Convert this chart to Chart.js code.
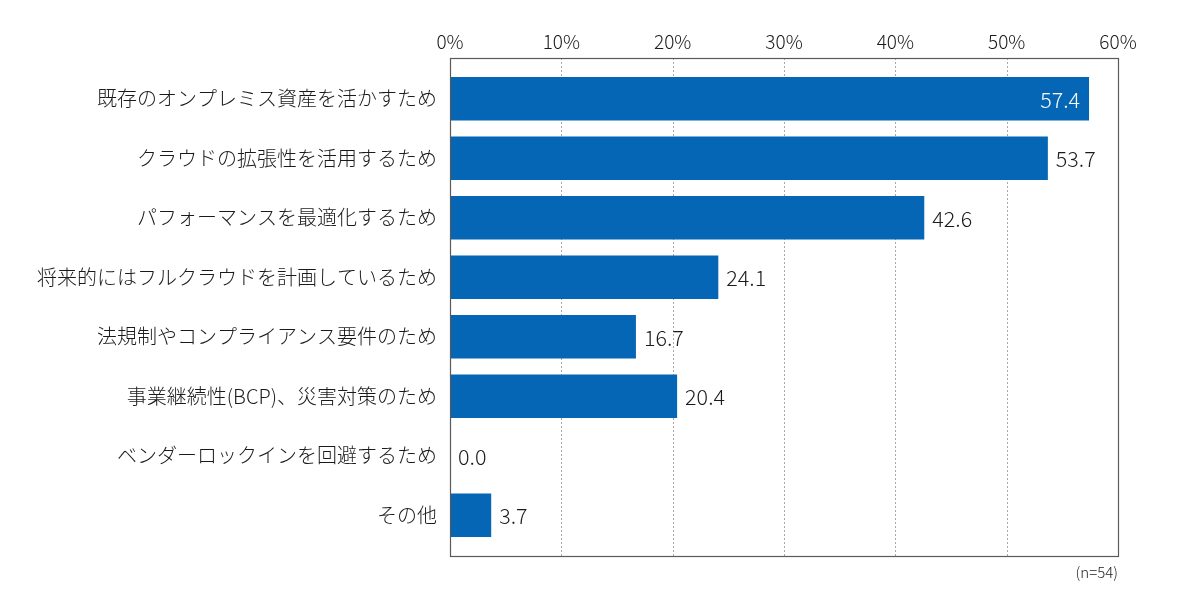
<!DOCTYPE html>
<html>
<head>
<meta charset="utf-8">
<script src="https://cdn.jsdelivr.net/npm/chart.js@4"></script>
<style>
  html, body { margin: 0; padding: 0; background: #fff; }
  #wrap { width: 1200px; height: 611px; position: relative; }
</style>
</head>
<body>
<div id="wrap"><canvas id="chart"></canvas></div>
<script>
const categories = [
  "既存のオンプレミス資産を活かすため",
  "クラウドの拡張性を活用するため",
  "パフォーマンスを最適化するため",
  "将来的にはフルクラウドを計画しているため",
  "法規制やコンプライアンス要件のため",
  "事業継続性(BCP)、災害対策のため",
  "ベンダーロックインを回避するため",
  "その他"
];
const values = [57.4, 53.7, 42.6, 24.1, 16.7, 20.4, 0.0, 3.7];
const xTicks = [0, 10, 20, 30, 40, 50, 60];
const sampleNote = "(n=54)";

const FONT = "'Noto Sans CJK JP', 'Noto Sans', sans-serif";
const BAR = "#0466b4";
const EXT = 11; // frame reaches a bit past the first/last slot

// frame, dotted grid and value labels
const framePlugin = {
  id: "frame",
  beforeDatasetsDraw(chart) {
    const { ctx, chartArea: a, scales: { x } } = chart;
    ctx.save();
    ctx.strokeStyle = "#a8a8a8";
    ctx.lineWidth = 1;
    ctx.setLineDash([2, 2]);
    xTicks.slice(1, -1).forEach((t) => {
      const px = Math.round(x.getPixelForValue(t)) + 0.5;
      ctx.beginPath();
      ctx.moveTo(px, a.top - EXT);
      ctx.lineTo(px, a.bottom + EXT);
      ctx.stroke();
    });
    ctx.restore();
  },
  afterDatasetsDraw(chart) {
    const { ctx, chartArea: a } = chart;
    ctx.save();
    ctx.strokeStyle = "#5a5a5a";
    ctx.lineWidth = 1.2;
    ctx.strokeRect(a.left + 0.5, a.top - EXT + 0.5, a.right - a.left, a.bottom - a.top + 2 * EXT);

    // value labels
    const meta = chart.getDatasetMeta(0);
    ctx.font = "300 21.5px " + FONT;
    ctx.textBaseline = "middle";
    meta.data.forEach((bar, i) => {
      const txt = values[i].toFixed(1);
      if (i === 0) {
        ctx.fillStyle = "#ffffff";
        ctx.textAlign = "right";
        ctx.fillText(txt, bar.x - 9, bar.y + 1);
      } else {
        ctx.fillStyle = "#1a1a1a";
        ctx.textAlign = "left";
        ctx.fillText(txt, bar.x + 8, bar.y + 1);
      }
    });

    ctx.fillStyle = "#1a1a1a";
    ctx.font = "300 15px " + FONT;
    ctx.textAlign = "right";
    ctx.textBaseline = "middle";
    ctx.fillText(sampleNote, a.right, a.bottom + EXT + 16);
    ctx.restore();
  }
};

new Chart(document.getElementById("chart"), {
  type: "bar",
  data: {
    labels: categories,
    datasets: [
      {
        data: values,
        backgroundColor: BAR,
        borderWidth: 0,
        barPercentage: 0.73,
        categoryPercentage: 1.0,
      },
    ],
  },
  options: {
    indexAxis: "y",
    responsive: true,
    maintainAspectRatio: false,
    animation: false,
    layout: { padding: { left: 0, right: 82, top: 0, bottom: 66 } },
    plugins: {
      legend: { display: false },
      tooltip: { enabled: false },
    },
    scales: {
      x: {
        position: "top",
        min: 0,
        max: 60,
        afterBuildTicks: (s) => { s.ticks = xTicks.map((v) => ({ value: v })); },
        afterFit: (s) => { s.height = 69; },
        grid: { display: false, drawTicks: false },
        border: { display: false },
        ticks: {
          padding: 16,
          color: "#1a1a1a",
          font: { family: FONT, size: 19, weight: 300 },
          callback: (v) => v + "%",
          maxRotation: 0,
        },
      },
      y: {
        afterFit: (s) => { s.width = 450; },
        grid: { display: false, drawTicks: false },
        border: { display: false },
        ticks: {
          padding: 13,
          color: "#1a1a1a",
          font: { family: FONT, size: 20, weight: 300 },
        },
      },
    },
  },
  plugins: [framePlugin],
});
</script>
</body>
</html>
